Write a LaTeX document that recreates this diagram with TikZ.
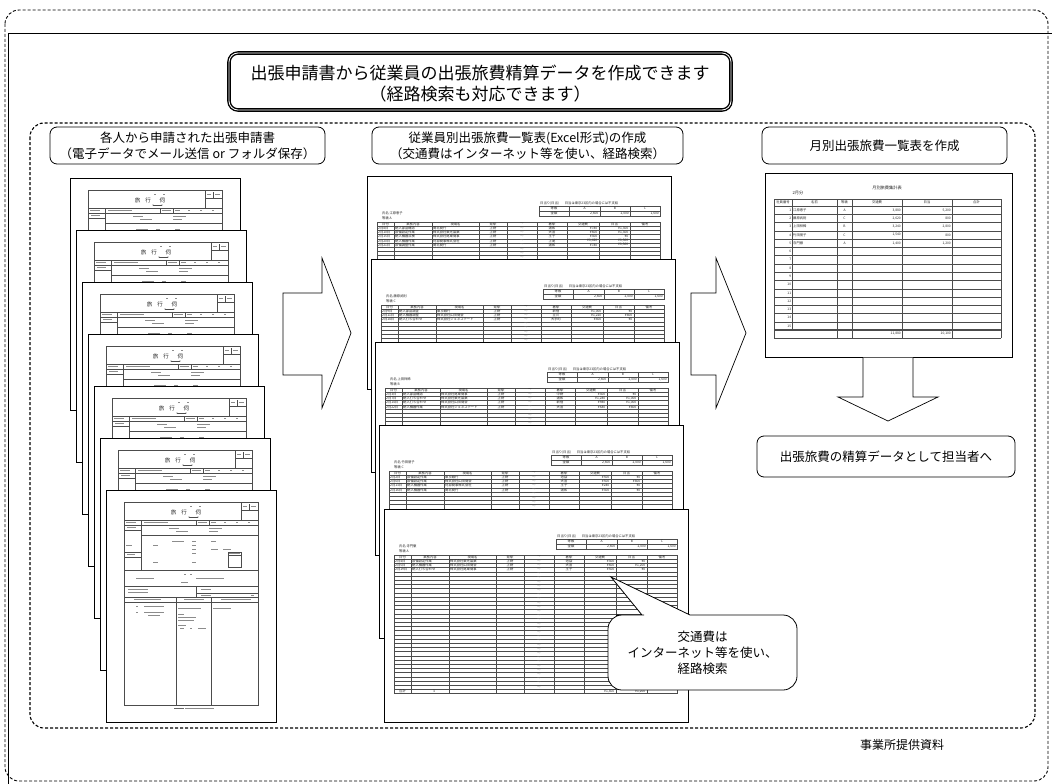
\documentclass[tikz,border=0pt]{standalone}
\usepackage{fontspec}
\setmainfont{Noto Sans CJK JP}
\newcommand\tb[3]{\fill[black!45] (#1,#3-0.45) rectangle (#2,#3+0.45);}
\newcommand\formpage[2]{%
\begin{scope}[shift={(#1,#2)}]
\draw[pg] (0,0) rectangle (170,232);
\draw[tl] (18,12) rectangle (152,215);
\node[tt,font=\fontsize{5.5}{6}\selectfont] at (80,22) {旅\hspace{5pt}行\hspace{9pt}伺};
\tb{84}{86}{16.5}\tb{93}{95}{16.5}
\draw[tl] (83,27)--(92,27); \fill[black!60] (83,27) circle (0.6) (92,27) circle (0.6);
\draw[tl] (135,12)--(135,30) (135,20)--(152,20) (143.5,14)--(143.5,20);
\tb{137}{141}{16}\tb{145}{150}{16}
\draw[tl] (18,30)--(152,30) (18,35)--(152,35) (35,30)--(35,80) (90,30)--(90,35) (103,30)--(103,35);
\tb{20}{30}{32.5}\tb{38}{62}{32.5}\tb{92}{101}{32.5}\tb{105}{110}{32.5}\tb{118}{120}{32.5}\tb{130}{132}{32.5}\tb{142}{144}{32.5}
\draw[tl] (18,40)--(35,40);
\tb{21}{30}{37.5}\tb{63}{73}{38}\tb{103}{116}{38}\tb{70}{82}{41.5}\tb{103}{112}{41.5}
\draw[tl] (35,45)--(152,45);
\tb{66}{78}{51}\tb{86}{90}{51}\tb{105}{110}{51}
\tb{20}{26}{55}\tb{47}{52}{55}\tb{86}{90}{55}
\tb{86}{90}{59}\tb{105}{112}{59}\tb{117}{125}{59}\tb{86}{90}{63}
\draw[tl] (18,62)--(35,62) (18,67)--(35,67);
\tb{21}{29}{64.5}
\draw[tl] (122,62) rectangle (135,77); \draw[tl] (122,65.5)--(135,65.5);
\tb{123}{134}{63.8}\tb{47}{52}{72}\tb{86}{90}{72}
\draw[tl] (18,80)--(152,80);
\tb{78}{80}{84}\tb{84}{86}{84}\tb{30}{48}{88}\tb{90}{118}{88}\tb{75}{82}{92}
\draw[tl] (18,96)--(152,96) (90,96)--(90,107) (90,103)--(152,103) (18,107)--(152,107) (18,112)--(152,112) (70,107)--(70,215) (105,107)--(105,215);
\tb{22}{42}{99}\tb{22}{42}{102}\tb{95}{105}{99.5}\tb{95}{105}{105}\tb{145}{148}{105}
\tb{28}{55}{109.5}\tb{78}{98}{109.5}\tb{115}{145}{109.5}
\tb{30}{32}{116}\tb{38}{58}{116}\tb{30}{32}{122}\tb{38}{58}{122}\tb{42}{54}{125}
\tb{72}{95}{118}\tb{72}{78}{124}\tb{72}{90}{127}\tb{72}{88}{130}\tb{72}{80}{135}\tb{74}{78}{138}\tb{84}{86}{138}\tb{92}{100}{138}
\tb{107}{125}{118}
\fill[black!60] (68,217.5) rectangle (78,218.6);\tb{79}{108}{218}
\end{scope}}
\newcommand\mrow[7]{%
\pgfmathsetmacro\ry{50.2+4.2*(#1-0.5)}%
\node[tt,anchor=west] at (11,\ry) {#2};
\node[tt,anchor=west] at (28,\ry) {#3};
\node[tt,anchor=west] at (66,\ry) {#4};
\node[tt] at (126,\ry) {上野};
\node[tt] at (185,\ry) {#5};
\node[tt,anchor=east] at (230.5,\ry) {#6};
\node[tt,anchor=east] at (261.5,\ry) {#7};}
\newcommand\midpage[5]{%
\begin{scope}[shift={(#1,#2)}]
\draw[pg] (0,0) rectangle (304,213);
\node[tt,anchor=west] at (173,27) {日当り(日当)\hspace{6pt}日当は東京23区内の場合には不支給};
\draw[tl] (172,30) rectangle (293,40); \draw[tl] (172,35)--(293,35);
\foreach \c in {202,233,263} \draw[tl] (\c,30)--(\c,40);
\node[tt] at (187,32.5) {等級}; \node[tt] at (217.5,32.5) {A}; \node[tt] at (248,32.5) {B}; \node[tt] at (278,32.5) {C};
\node[tt] at (187,37.5) {金額}; \node[tt,anchor=east] at (231.5,37.5) {2,600}; \node[tt,anchor=east] at (262,37.5) {2,000}; \node[tt,anchor=east] at (292,37.5) {1,600};
\node[tt,anchor=west] at (15,37) {氏名\ #3};
\node[tt,anchor=west] at (15,42) {等級\ #4};
\foreach \k in {0,...,33} \draw[tl] (10,{46+4.2*\k}) -- (293,{46+4.2*\k});
\foreach \c in {10,27,65,112,140,170,200,232,263,293} \draw[tl] (\c,46) -- (\c,184.6);
\node[tt] at (18.5,48.1) {日付}; \node[tt] at (46,48.1) {業務内容}; \node[tt] at (88.5,48.1) {現場名};
\node[tt] at (126,48.1) {発駅}; \node[tt] at (155,48.1) {〜}; \node[tt] at (185,48.1) {着駅};
\node[tt] at (216,48.1) {交通費}; \node[tt] at (247.5,48.1) {日当}; \node[tt] at (278,48.1) {備考};
\foreach \r in {1,...,31} \node[tt,text=black!45] at (155,{50.2+4.2*\r-2.1}) {〜};
\node[tt] at (18.5,182.5) {合計};
#5
\end{scope}}
\newcommand\rrow[5]{%
\pgfmathsetmacro\ry{33+8.27*(#1-0.5)}%
\node[tt,anchor=west] at (28,\ry) {#2};
\node[tt] at (79.5,\ry) {#3};
\node[tt,anchor=east] at (136,\ry) {#4};
\node[tt,anchor=east] at (186,\ry) {#5};}
\begin{document}
\begin{tikzpicture}[x=1pt,y=-1pt,
  pg/.style={draw=black, line width=0.8pt, fill=white},
  tl/.style={draw=black!70, line width=0.25pt},
  tt/.style={inner sep=0pt, font=\fontsize{3.3}{3.6}\selectfont, text=black!85},
  hdr/.style={draw=black, line width=0.8pt, rounded corners=7pt, fill=white, align=center, font=\fontsize{12.5}{16}\selectfont},
  blk/.style={draw=black, line width=0.7pt, fill=white, line join=miter},
  dframe/.style={draw=black, line width=0.9pt, dash pattern=on 3pt off 2pt, rounded corners=14pt},
  lbl/.style={inner sep=0pt, font=\fontsize{12.5}{16}\selectfont, align=center}]
\useasboundingbox (0,0) rectangle (1052,784);
% frames
\draw[dframe] (5,10) rectangle (1048,781);
\draw[line width=0.7pt] (8,784) -- (8,33) -- (1052,33);
\draw[dframe, line width=1.1pt] (30,123) rectangle (1035,728);
% title
\node[draw, line width=1.4pt, double, double distance=0.8pt, rounded corners=9pt, fill=white, minimum width=502pt, minimum height=57pt] (title) at (480,81.5) {};
\node[inner sep=0pt, align=center, font=\fontsize{17}{21}\selectfont] (titletext) at (480,84) {出張申請書から従業員の出張旅費精算データを作成できます\\（経路検索も対応できます）};
% headers
\node[hdr, minimum width=275pt, minimum height=37pt] (h1) at (187.5,145.5) {各人から申請された出張申請書\\（電子データでメール送信 or フォルダ保存）};
\node[hdr, minimum width=311pt, minimum height=37pt] (h2) at (527.5,145.5) {従業員別出張旅費一覧表(Excel形式)の作成\\（交通費はインターネット等を使い、経路検索）};
\node[hdr, minimum width=245pt, minimum height=37pt] (h3) at (884.5,145.5) {月別出張旅費一覧表を作成};
% left stack
\foreach \i in {0,...,6} {\formpage{70+6*\i}{178+52*\i}}
% middle stack
\midpage{367}{176}{江原恵子}{A}{%
\mrow{1}{2月8日}{納入部品確認}{関北商行}{浦和}{¥780}{¥1,300}
\mrow{2}{2月10日}{設備設定作業}{株式会社東光製薬}{大宮}{¥600}{¥1,300}
\mrow{3}{2月15日}{納入機器点検}{株式会社尾東商事}{王子}{¥300}{¥0}
\mrow{4}{2月20日}{納入機器作業}{阿部商事株式会社}{上尾}{¥1,420}{¥1,300}
\mrow{5}{2月21日}{設備調整作業}{関北商行}{浦和}{¥780}{¥1,300}}
\midpage{371}{259}{藤原武則}{C}{%
\mrow{1}{2月9日}{納入部品調査}{東京銀行}{新宿}{¥1,000}{¥0}
\mrow{2}{2月11日}{納入機器調整}{株式会社山田商会}{立川}{¥1,220}{¥800}
\mrow{3}{2月18日}{納入打ち合わせ}{株式会社ジェネステート}{大手町}{¥400}{¥0}}
\midpage{375}{342}{上田祥稀}{B}{%
\mrow{1}{2月3日}{納入部品確認}{株式会社尾東商事}{中野}{¥300}{¥0}
\mrow{2}{2月7日}{納入打ち合わせ}{株式会社東光製薬}{浦和}{¥1,280}{¥1,000}
\mrow{3}{2月14日}{納入打ち合わせ}{株式会社山田商会}{新宿}{¥980}{¥1,000}
\mrow{4}{2月22日}{納入機器作業}{株式会社ジェネステート}{大宮}{¥680}{¥800}}
\midpage{379}{425}{竹田朋子}{C}{%
\mrow{1}{2月2日}{設備設定作業}{東京銀行}{池袋}{¥500}{¥0}
\mrow{2}{2月6日}{設備設定作業}{株式会社山田商会}{大宮}{¥500}{¥800}
\mrow{3}{2月13日}{納入機器作業}{阿部商事株式会社}{王子}{¥240}{¥0}
\mrow{4}{2月16日}{納入機器作業}{関北商行}{浦和}{¥300}{¥0}}
\midpage{384}{509}{寺門徹}{A}{%
\mrow{1}{2月4日}{設備設定作業}{株式会社東光製薬}{池袋}{¥300}{¥0}
\mrow{2}{2月5日}{納入機器作業}{株式会社山田商会}{大宮}{¥600}{¥1,200}
\mrow{3}{2月19日}{納入打ち合わせ}{株式会社尾東商事}{王子}{¥500}{¥0}
\node[tt] at (50,182.5) {3};
\node[tt,anchor=east] at (230.5,182.5) {¥1,400};
\node[tt,anchor=east] at (261.5,182.5) {¥1,200};}
% right page
\begin{scope}[shift={(765,173)}]
\draw[pg] (0,0) rectangle (247,184);
\node[tt,font=\fontsize{4.2}{5}\selectfont] (rtitle) at (122,15) {月別旅費集計表};
\node[tt,font=\fontsize{4.2}{5}\selectfont] (rmonth) at (33,20) {2月分};
\draw[tl] (9,26) -- (236,26);
\foreach \k in {0,...,15} \draw[tl] (9,{33+8.27*\k}) -- (236,{33+8.27*\k});
\draw[tl] (9,155.8) -- (236,155.8);
\draw[tl] (9,165) -- (236,165);
\draw[tl] (27,26) -- (27,157.05);
\foreach \c in {9,72,87,137,187,236} \draw[tl] (\c,26) -- (\c,165);
\node[tt] at (18,29.5) {社員番号}; \node[tt] at (49.5,29.5) {名前}; \node[tt] at (79.5,29.5) {等級};
\node[tt] at (112,29.5) {交通費}; \node[tt] at (162,29.5) {日当}; \node[tt] at (211.5,29.5) {合計};
\foreach \n in {1,...,15} \node[tt,anchor=east] at (26.3,{33+8.27*(\n-0.5)}) {\n};
\rrow{1}{江原恵子}{A}{3,880}{5,200}
\rrow{2}{藤原武則}{C}{2,620}{800}
\rrow{3}{上田祥稀}{B}{3,240}{2,800}
\rrow{4}{竹田朋子}{C}{1,540}{800}
\rrow{5}{寺門徹}{A}{1,400}{1,200}
\node[tt,anchor=east] at (136,161) {11,880};
\node[tt,anchor=east] at (186,161) {10,100};
\end{scope}
% block arrows
\draw[blk] (283,293) -- (322,293) -- (322,258) -- (351,333) -- (322,408) -- (322,375) -- (283,375) -- cycle;
\draw[blk] (691,293) -- (716,293) -- (716,258) -- (746,333) -- (716,408) -- (716,375) -- (691,375) -- cycle;
\filldraw[blk] (863,357.5) -- (863,397) -- (838,397) -- (888,421) -- (938,397) -- (913,397) -- (913,357.5);
% result box
\node[hdr, minimum width=258pt, minimum height=41pt] (h4) at (886,456.5) {出張旅費の精算データとして担当者へ};
% callout
\filldraw[blk, line width=0.8pt] (642,615) -- (611,577) -- (690,615) -- (720,615) [rounded corners=14pt] -- (797,615) -- (797,690) -- (608,690) -- (608,615) -- (630,615) [sharp corners] -- cycle;
\node[lbl] (ctext) at (702.5,653) {交通費は\\インターネット等を使い、\\経路検索};
% source
\node[lbl, font=\fontsize{12}{14}\selectfont] (src) at (902,745) {事業所提供資料};
\end{tikzpicture}
\end{document}
